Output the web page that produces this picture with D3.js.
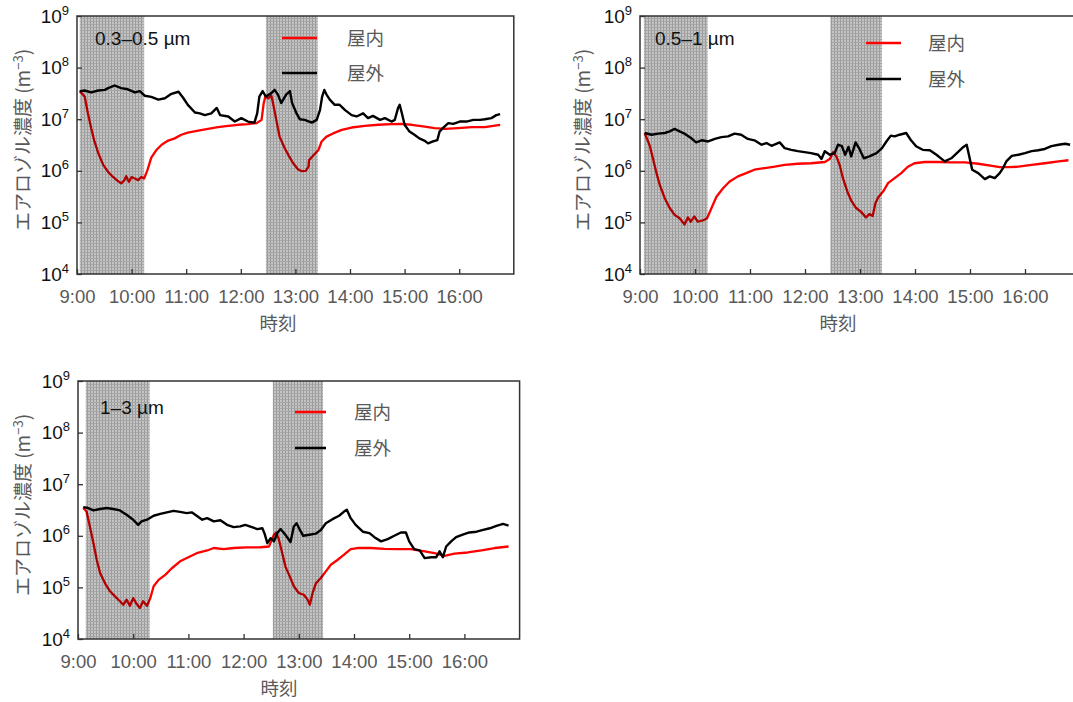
<!DOCTYPE html>
<html lang="ja">
<head>
<meta charset="utf-8">
<title>エアロゾル濃度</title>
<script src="https://cdn.jsdelivr.net/npm/d3@7"></script>
<style>
  html, body { margin: 0; padding: 0; background: #fff; }
  svg { display: block; font-family: "Liberation Sans", Arial, "Noto Sans CJK JP", sans-serif; }
  .shade { mix-blend-mode: multiply; }
</style>
</head>
<body>
<svg id="chart" width="1073" height="702"></svg>
<script>
// ===================================
// Data (time in decimal hours, concentration in m^-3)
// ===================================

const hourTicks = [9, 10, 11, 12, 13, 14, 15, 16];
const decadeTicks = [1e4, 1e5, 1e6, 1e7, 1e8, 1e9];
const legendLabels = ['屋内', '屋外'];
const sizeLabels = ['0.3–0.5 µm', '0.5–1 µm', '1–3 µm'];
const xTitle = '時刻';
const yTitle = 'エアロゾル濃度 (m';

// shaded intervals [start, end]
const shade03 = [[9.05, 10.23], [12.46, 13.41]];
const shade05 = [[9.07, 10.23], [12.46, 13.40]];
const shade13 = [[9.14, 10.30], [12.53, 13.44]];

// 0.3–0.5 µm
const outdoor03 = [
  [9.05, 3.5e7], [9.14, 3.6e7], [9.26, 3.3e7], [9.39, 3.6e7], [9.51, 3.7e7], [9.57, 4.0e7],
  [9.69, 4.5e7], [9.81, 4.0e7], [9.93, 3.8e7], [10.06, 3.3e7], [10.15, 3.5e7], [10.24, 2.85e7],
  [10.36, 2.7e7], [10.49, 2.4e7], [10.61, 2.55e7], [10.73, 3.1e7], [10.86, 3.4e7], [10.95, 2.55e7],
  [11.03, 1.9e7], [11.16, 1.35e7], [11.25, 1.3e7], [11.34, 1.2e7], [11.46, 1.3e7], [11.56, 1.65e7],
  [11.62, 1.2e7], [11.77, 1.13e7], [11.89, 9.0e6], [12.01, 1.05e7], [12.13, 9.0e6], [12.25, 8.6e6],
  [12.30, 1.3e7], [12.34, 2.75e7], [12.40, 3.5e7], [12.46, 2.75e7], [12.56, 3.2e7], [12.62, 3.7e7],
  [12.68, 3.0e7], [12.74, 2.05e7], [12.83, 3.0e7], [12.90, 3.5e7], [12.94, 2.05e7], [13.02, 1.3e7],
  [13.08, 1.0e7], [13.17, 9.7e6], [13.30, 8.6e6], [13.39, 9.7e6], [13.45, 1.5e7], [13.49, 2.75e7],
  [13.53, 3.7e7], [13.57, 3.0e7], [13.63, 2.4e7], [13.72, 1.9e7], [13.81, 1.9e7], [13.91, 1.5e7],
  [14.03, 1.2e7], [14.12, 1.13e7], [14.24, 1.3e7], [14.33, 1.05e7], [14.42, 1.16e7], [14.55, 9.7e6],
  [14.64, 1.05e7], [14.76, 9.0e6], [14.82, 9.7e6], [14.88, 1.65e7], [14.91, 1.9e7], [14.95, 1.3e7],
  [15.00, 7.8e6], [15.09, 5.75e6], [15.18, 5.0e6], [15.27, 4.25e6], [15.36, 3.85e6], [15.43, 3.4e6],
  [15.52, 3.7e6], [15.60, 3.95e6], [15.64, 5.75e6], [15.70, 6.7e6], [15.80, 8.4e6], [15.89, 8.1e6],
  [16.01, 9.0e6], [16.13, 9.0e6], [16.26, 9.7e6], [16.38, 9.7e6], [16.47, 1.0e7], [16.59, 1.05e7],
  [16.68, 1.2e7], [16.75, 1.25e7]
];
const indoor03 = [
  [9.05, 3.5e7], [9.14, 2.75e7], [9.20, 1.3e7], [9.26, 6.7e6], [9.32, 3.7e6], [9.39, 2.2e6],
  [9.48, 1.3e6], [9.57, 9.5e5], [9.66, 7.6e5], [9.75, 6.3e5], [9.81, 5.7e5], [9.87, 6.6e5],
  [9.90, 7.9e5], [9.95, 6.1e5], [10.00, 7.6e5], [10.06, 7.1e5], [10.12, 6.6e5], [10.18, 7.6e5],
  [10.23, 7.1e5], [10.29, 1.03e6], [10.36, 1.8e6], [10.45, 2.5e6], [10.55, 3.2e6], [10.67, 3.85e6],
  [10.79, 4.25e6], [10.91, 5.0e6], [11.03, 5.5e6], [11.22, 6.0e6], [11.40, 6.5e6], [11.58, 7.0e6],
  [11.77, 7.4e6], [11.95, 7.8e6], [12.13, 8.0e6], [12.29, 8.4e6], [12.38, 9.7e6], [12.42, 2.05e7],
  [12.45, 2.75e7], [12.50, 2.55e7], [12.56, 2.85e7], [12.59, 2.05e7], [12.65, 9.7e6], [12.71, 4.6e6],
  [12.80, 2.8e6], [12.88, 1.95e6], [12.96, 1.4e6], [13.05, 1.06e6], [13.11, 9.9e5], [13.19, 1.0e6],
  [13.24, 1.2e6], [13.25, 1.6e6], [13.33, 2.0e6], [13.42, 2.5e6], [13.48, 3.7e6], [13.57, 4.6e6],
  [13.69, 5.3e6], [13.85, 6.2e6], [14.03, 6.9e6], [14.27, 7.4e6], [14.52, 7.8e6], [14.76, 8.0e6],
  [14.94, 8.1e6], [15.13, 7.8e6], [15.37, 7.2e6], [15.55, 6.7e6], [15.74, 6.5e6], [15.98, 6.7e6],
  [16.23, 7.0e6], [16.47, 7.0e6], [16.75, 7.8e6]
];

// 0.5–1 µm
const outdoor05 = [
  [9.085, 5.4e6], [9.21, 5.0e6], [9.33, 5.25e6], [9.45, 5.4e6], [9.54, 5.8e6], [9.63, 6.5e6],
  [9.72, 5.8e6], [9.81, 5.25e6], [9.93, 4.3e6], [10.02, 3.55e6], [10.12, 3.9e6], [10.24, 3.7e6],
  [10.36, 4.15e6], [10.48, 4.5e6], [10.60, 4.65e6], [10.72, 5.25e6], [10.84, 5.0e6], [10.96, 4.15e6],
  [11.08, 3.9e6], [11.21, 3.2e6], [11.30, 3.45e6], [11.39, 3.05e6], [11.54, 3.55e6], [11.63, 2.75e6],
  [11.75, 2.55e6], [11.87, 2.4e6], [11.99, 2.3e6], [12.11, 2.2e6], [12.24, 2.05e6], [12.30, 1.7e6],
  [12.36, 2.4e6], [12.45, 2.05e6], [12.54, 2.2e6], [12.60, 3.2e6], [12.67, 3.0e6], [12.73, 2.05e6],
  [12.79, 2.9e6], [12.84, 1.9e6], [12.92, 3.55e6], [12.99, 2.65e6], [13.07, 1.75e6], [13.17, 1.9e6],
  [13.30, 2.2e6], [13.40, 2.75e6], [13.48, 3.7e6], [13.56, 4.8e6], [13.63, 4.65e6], [13.72, 5.0e6],
  [13.84, 5.4e6], [13.92, 4.0e6], [14.02, 3.0e6], [14.14, 2.55e6], [14.27, 2.5e6], [14.39, 2.05e6],
  [14.54, 1.52e6], [14.66, 1.75e6], [14.78, 2.3e6], [14.88, 2.9e6], [14.94, 3.2e6], [14.98, 2.05e6],
  [15.04, 1.05e6], [15.15, 9.0e5], [15.27, 6.9e5], [15.36, 7.8e5], [15.45, 7.2e5], [15.54, 9.0e5],
  [15.60, 1.13e6], [15.66, 1.52e6], [15.76, 1.95e6], [15.88, 2.05e6], [16.00, 2.2e6], [16.12, 2.4e6],
  [16.24, 2.5e6], [16.36, 2.65e6], [16.48, 3.0e6], [16.61, 3.2e6], [16.73, 3.35e6], [16.82, 3.2e6]
];
const indoor05 = [
  [9.085, 5.4e6], [9.18, 3.0e6], [9.24, 1.65e6], [9.30, 9.0e5], [9.36, 5.3e5], [9.45, 2.95e5],
  [9.54, 1.9e5], [9.63, 1.4e5], [9.72, 1.2e5], [9.81, 9.1e4], [9.87, 1.25e5], [9.92, 1.03e5],
  [9.99, 1.3e5], [10.05, 1.03e5], [10.15, 1.1e5], [10.22, 1.2e5], [10.30, 1.9e5], [10.39, 3.15e5],
  [10.51, 4.6e5], [10.63, 6.2e5], [10.78, 7.8e5], [10.93, 9.0e5], [11.08, 1.05e6], [11.27, 1.13e6],
  [11.45, 1.2e6], [11.63, 1.3e6], [11.87, 1.37e6], [12.11, 1.4e6], [12.36, 1.48e6], [12.45, 1.7e6],
  [12.51, 2.3e6], [12.57, 1.9e6], [12.63, 1.3e6], [12.69, 7.2e5], [12.78, 3.7e5], [12.84, 2.65e5],
  [12.93, 1.9e5], [13.02, 1.6e5], [13.11, 1.25e5], [13.17, 1.45e5], [13.23, 1.33e5], [13.28, 2.35e5],
  [13.33, 3.05e5], [13.42, 3.95e5], [13.51, 5.75e5], [13.63, 7.2e5], [13.75, 9.0e5], [13.87, 1.2e6],
  [13.99, 1.4e6], [14.18, 1.48e6], [14.42, 1.48e6], [14.66, 1.45e6], [14.91, 1.45e6], [15.15, 1.37e6],
  [15.40, 1.25e6], [15.54, 1.18e6], [15.70, 1.18e6], [15.88, 1.2e6], [16.12, 1.3e6], [16.36, 1.4e6],
  [16.61, 1.52e6], [16.79, 1.6e6]
];

// 1–3 µm
const outdoor13 = [
  [9.095, 3.6e6], [9.185, 3.45e6], [9.28, 3.1e6], [9.40, 3.3e6], [9.52, 3.45e6], [9.64, 3.3e6],
  [9.76, 3.1e6], [9.88, 2.55e6], [10.00, 2.05e6], [10.09, 1.63e6], [10.15, 1.9e6], [10.25, 2.05e6],
  [10.37, 2.45e6], [10.49, 2.65e6], [10.61, 2.85e6], [10.73, 3.05e6], [10.85, 2.9e6], [10.97, 2.75e6],
  [11.06, 2.85e6], [11.15, 2.45e6], [11.25, 2.05e6], [11.34, 2.2e6], [11.46, 1.9e6], [11.58, 2.0e6],
  [11.70, 1.63e6], [11.82, 1.47e6], [11.94, 1.52e6], [12.03, 1.63e6], [12.15, 1.47e6], [12.25, 1.35e6],
  [12.34, 1.4e6], [12.38, 1.1e6], [12.43, 7.2e5], [12.49, 9.0e5], [12.55, 7.8e5], [12.61, 1.13e6],
  [12.67, 1.35e6], [12.75, 1.07e6], [12.85, 7.6e5], [12.91, 1.52e6], [12.96, 1.75e6], [13.02, 1.3e6],
  [13.08, 1.0e6], [13.19, 1.05e6], [13.31, 1.1e6], [13.40, 1.3e6], [13.49, 1.75e6], [13.61, 2.1e6],
  [13.73, 2.45e6], [13.82, 2.95e6], [13.87, 3.2e6], [13.94, 2.2e6], [14.03, 1.63e6], [14.16, 1.2e6],
  [14.28, 1.13e6], [14.37, 9.4e5], [14.49, 7.8e5], [14.61, 8.6e5], [14.73, 1.0e6], [14.85, 1.16e6],
  [14.94, 1.16e6], [15.00, 7.8e5], [15.09, 5.5e5], [15.19, 5.2e5], [15.28, 3.7e5], [15.40, 3.85e5],
  [15.49, 3.85e5], [15.55, 5.0e5], [15.61, 3.85e5], [15.67, 6.2e5], [15.76, 7.8e5], [15.85, 9.4e5],
  [15.97, 1.05e6], [16.09, 1.16e6], [16.22, 1.2e6], [16.34, 1.3e6], [16.46, 1.4e6], [16.58, 1.56e6],
  [16.70, 1.7e6], [16.80, 1.58e6]
];
const indoor13 = [
  [9.095, 3.45e6], [9.155, 2.95e6], [9.215, 1.52e6], [9.28, 7.2e5], [9.34, 3.4e5], [9.40, 1.9e5],
  [9.49, 1.2e5], [9.58, 8.4e4], [9.67, 6.7e4], [9.76, 5.4e4], [9.82, 4.6e4], [9.88, 5.8e4],
  [9.94, 4.4e4], [10.00, 6.2e4], [10.06, 4.8e4], [10.12, 4.0e4], [10.18, 5.4e4], [10.25, 4.4e4],
  [10.31, 6.2e4], [10.37, 1.05e5], [10.46, 1.4e5], [10.58, 1.75e5], [10.70, 2.35e5], [10.85, 3.2e5],
  [11.00, 3.85e5], [11.15, 4.6e5], [11.34, 5.2e5], [11.46, 5.8e5], [11.64, 5.5e5], [11.82, 5.8e5],
  [12.06, 5.95e5], [12.31, 6.0e5], [12.46, 6.2e5], [12.49, 7.4e5], [12.55, 1.05e6], [12.59, 1.16e6],
  [12.64, 8.4e5], [12.70, 4.6e5], [12.76, 2.5e5], [12.84, 1.6e5], [12.91, 1.05e5], [13.00, 7.8e4],
  [13.09, 7.2e4], [13.16, 5.8e4], [13.20, 4.6e4], [13.25, 7.8e4], [13.31, 1.2e5], [13.40, 1.52e5],
  [13.49, 2.05e5], [13.58, 2.75e5], [13.70, 3.4e5], [13.82, 4.3e5], [13.94, 5.5e5], [14.06, 5.8e5],
  [14.31, 5.8e5], [14.55, 5.6e5], [14.79, 5.5e5], [15.03, 5.5e5], [15.28, 5.0e5], [15.46, 4.6e5],
  [15.64, 4.1e5], [15.82, 4.5e5], [16.06, 4.75e5], [16.31, 5.2e5], [16.55, 5.8e5], [16.80, 6.2e5]
];

// ===================================
// Layout (one entry per panel)
// ===================================

const panels = [
  {
    id: 'p03', label: sizeLabels[0], indoor: indoor03, outdoor: outdoor03, shade: shade03,
    left: 77, top: 16, bottom: 274, hourPx: 54.6,
    labelPos: [95, 38], legend: { x1: 282, x2: 317, tx: 347, y1: 38, y2: 73 },
    yTitleX: 23.5, xTitlePos: [278, 323]
  },
  {
    id: 'p05', label: sizeLabels[1], indoor: indoor05, outdoor: outdoor05, shade: shade05,
    left: 640, top: 16, bottom: 274, hourPx: 55,
    labelPos: [655, 38], legend: { x1: 866, x2: 901, tx: 928, y1: 43, y2: 79 },
    yTitleX: 583, xTitlePos: [838, 323]
  },
  {
    id: 'p13', label: sizeLabels[2], indoor: indoor13, outdoor: outdoor13, shade: shade13,
    left: 78, top: 381, bottom: 639, hourPx: 55.2,
    labelPos: [100, 407], legend: { x1: 295, x2: 326, tx: 354, y1: 412, y2: 448 },
    yTitleX: 23, xTitlePos: [279, 688]
  }
];

const RED = '#ff0000';
const GREY_TEXT = '#595959';

const svg = d3.select('#chart');
const defs = svg.append('defs');

// Stippled grey fill used for the shaded periods
const pattern = defs.append('pattern')
  .attr('id', 'stipple')
  .attr('patternUnits', 'userSpaceOnUse')
  .attr('width', 3)
  .attr('height', 3);
pattern.append('rect').attr('width', 3).attr('height', 3).attr('fill', '#c4c4c4');
pattern.append('rect').attr('width', 1).attr('height', 3).attr('fill', '#999999');
pattern.append('rect').attr('width', 3).attr('height', 1).attr('fill', '#a6a6a6');

function drawPanel(p) {
  const right = p.left + 8 * p.hourPx;
  const x = d3.scaleLinear().domain([9, 17]).range([p.left, right]);
  const y = d3.scaleLog().domain([1e4, 1e9]).range([p.bottom, p.top]);
  const g = svg.append('g').attr('id', p.id);

  defs.append('clipPath').attr('id', 'clip-' + p.id)
    .append('rect')
    .attr('x', p.left).attr('y', p.top)
    .attr('width', right - p.left).attr('height', p.bottom - p.top);

  const plot = g.append('g').attr('clip-path', `url(#clip-${p.id})`);

  const line = d3.line()
    .x((d) => x(d[0]))
    .y((d) => y(d[1]));

  plot.append('path')
    .datum(p.indoor)
    .attr('d', line)
    .attr('fill', 'none')
    .attr('stroke', RED)
    .attr('stroke-width', 2.3)
    .attr('stroke-linejoin', 'round');

  plot.append('path')
    .datum(p.outdoor)
    .attr('d', line)
    .attr('fill', 'none')
    .attr('stroke', '#000')
    .attr('stroke-width', 2.4)
    .attr('stroke-linejoin', 'round');

  // shaded periods on top, multiplied so lines darken underneath
  plot.selectAll('rect.shade')
    .data(p.shade)
    .join('rect')
    .attr('class', 'shade')
    .attr('x', (d) => x(d[0]))
    .attr('width', (d) => x(d[1]) - x(d[0]))
    .attr('y', p.top)
    .attr('height', p.bottom - p.top)
    .attr('fill', 'url(#stipple)');

  // axes, ticks pointing inward
  const xAxis = d3.axisBottom(x)
    .tickValues(hourTicks)
    .tickSizeInner(-5)
    .tickSizeOuter(0)
    .tickPadding(16)
    .tickFormat((h) => h + ':00');

  g.append('g')
    .attr('transform', `translate(0,${p.bottom})`)
    .call(xAxis)
    .call((a) => a.select('.domain').remove())
    .call((a) => a.selectAll('.tick line').attr('stroke', '#333').attr('stroke-width', 1.3))
    .call((a) => a.selectAll('.tick text')
      .attr('fill', GREY_TEXT)
      .style('font-size', '18.5px')
      .style('font-family', '"Liberation Sans", Arial, sans-serif'));

  const yAxis = d3.axisLeft(y)
    .tickValues(decadeTicks)
    .tickSizeInner(-5)
    .tickSizeOuter(0)
    .tickPadding(8);

  g.append('g')
    .attr('transform', `translate(${p.left},0)`)
    .call(yAxis)
    .call((a) => a.select('.domain').remove())
    .call((a) => a.selectAll('.tick line').attr('stroke', '#333').attr('stroke-width', 1.3))
    .call((a) => {
      const t = a.selectAll('.tick text')
        .text(null)
        .attr('fill', '#111')
        .style('font-size', '19px')
        .style('font-family', '"Liberation Sans", Arial, sans-serif');
      t.append('tspan').text('10');
      t.append('tspan')
        .attr('dy', '-8')
        .style('font-size', '13px')
        .text((d) => Math.round(Math.log10(d)));
    });

  // plot frame
  g.append('rect')
    .attr('x', p.left)
    .attr('y', p.top)
    .attr('width', right - p.left)
    .attr('height', p.bottom - p.top)
    .attr('fill', 'none')
    .attr('stroke', '#333')
    .attr('stroke-width', 1.5);

  // size range label
  g.append('text')
    .attr('x', p.labelPos[0])
    .attr('y', p.labelPos[1])
    .attr('dy', '0.35em')
    .attr('fill', '#111')
    .style('font-size', '19px')
    .text(p.label);

  // legend
  const lg = p.legend;
  [[RED, lg.y1, legendLabels[0]], ['#000', lg.y2, legendLabels[1]]].forEach(([c, ly, txt]) => {
    g.append('line')
      .attr('x1', lg.x1).attr('x2', lg.x2)
      .attr('y1', ly).attr('y2', ly)
      .attr('stroke', c)
      .attr('stroke-width', 2.6);
    g.append('text')
      .attr('x', lg.tx)
      .attr('y', ly)
      .attr('dy', '0.36em')
      .attr('fill', GREY_TEXT)
      .style('font-size', '18.5px')
      .style('font-family', '"Noto Sans CJK JP", sans-serif')
      .text(txt);
  });

  // axis titles
  g.append('text')
    .attr('x', p.xTitlePos[0])
    .attr('y', p.xTitlePos[1])
    .attr('dy', '0.36em')
    .attr('text-anchor', 'middle')
    .attr('fill', GREY_TEXT)
    .style('font-size', '18.5px')
    .style('font-family', '"Noto Sans CJK JP", sans-serif')
    .text(xTitle);

  const yt = g.append('text')
    .attr('transform', `translate(${p.yTitleX},${(p.top + p.bottom) / 2 - 5}) rotate(-90)`)
    .attr('dy', '0.36em')
    .attr('text-anchor', 'middle')
    .attr('fill', GREY_TEXT)
    .style('font-size', '19px')
    .style('font-family', '"Noto Sans CJK JP", sans-serif');
  yt.append('tspan').text(yTitle);
  yt.append('tspan').attr('dy', '-7').style('font-size', '13px').text('−3');
  yt.append('tspan').attr('dy', '7').text(')');
}

panels.forEach(drawPanel);
</script>
</body>
</html>
